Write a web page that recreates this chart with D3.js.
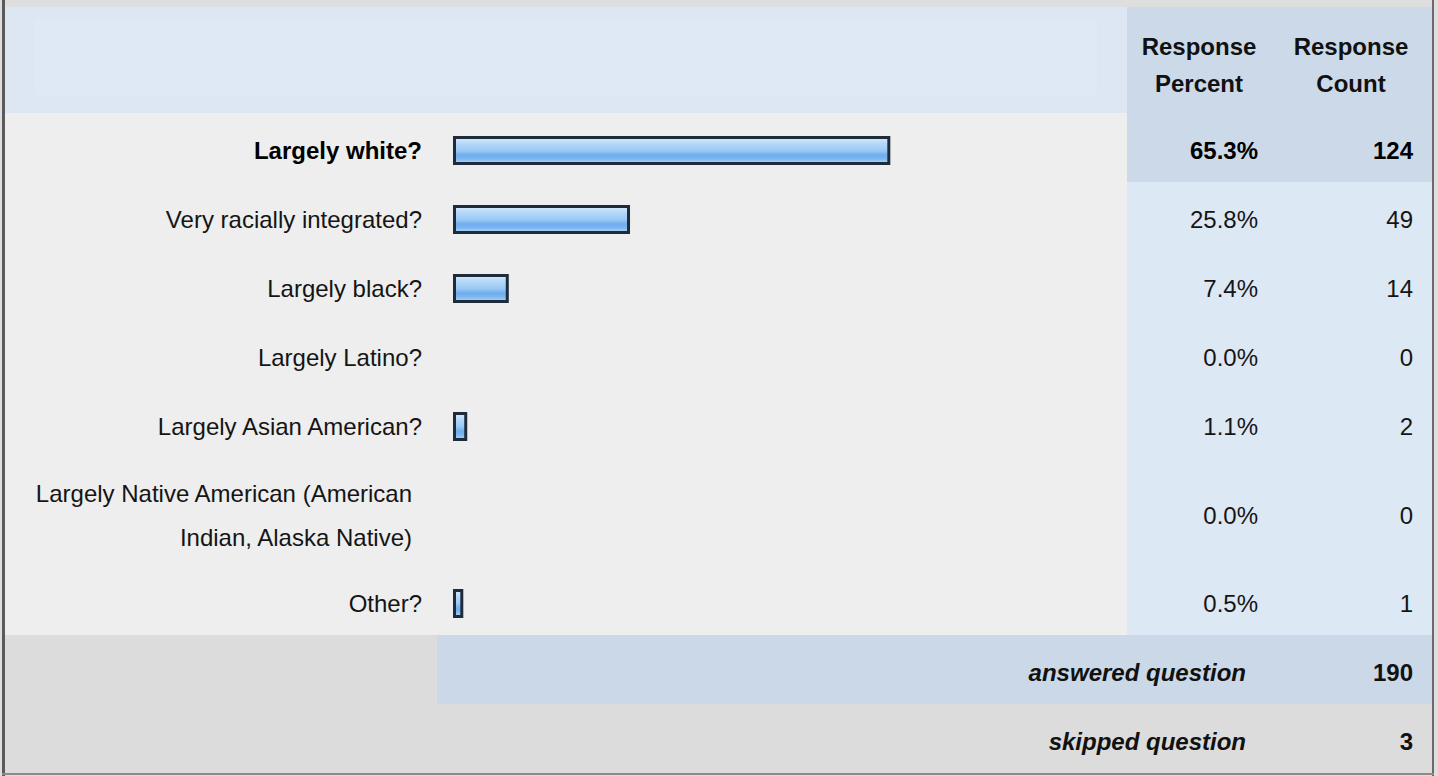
<!DOCTYPE html>
<html>
<head>
<meta charset="utf-8">
<script src="https://cdn.jsdelivr.net/npm/d3@7"></script>
<style>
  html, body { margin: 0; padding: 0; background: #ffffff; }
  svg { display: block; }
  text { font-family: "Liberation Sans", Arial, Helvetica, sans-serif; }
</style>
</head>
<body>
<svg id="chart" width="1438" height="776"></svg>
<script>
// ---- data ----
const categoryLines = [
  ["Largely white?"],
  ["Very racially integrated?"],
  ["Largely black?"],
  ["Largely Latino?"],
  ["Largely Asian American?"],
  ["Largely Native American (American", "Indian, Alaska Native)"],
  ["Other?"]
];
const percents = [65.3, 25.8, 7.4, 0.0, 1.1, 0.0, 0.5];
const counts = [124, 49, 14, 0, 2, 0, 1];
const headerPercent = ["Response", "Percent"];
const headerCount = ["Response", "Count"];
const answeredLabel = "answered question";
const skippedLabel = "skipped question";
const answeredCount = 190;
const skippedCount = 3;
const highlightIndex = 0;

// ---- layout ----
const W = 1438, H = 776;
const boxL = 5, boxR = 1432, boxT = 7, boxB = 773;
const headerH = 106;
const rowH1 = 69, rowH2 = 108, footH = 69;
const dataColX = 1127;
const answeredBlueX = 437;
const labelRight = 422;
const pctRight = 1258;
const cntRight = 1413;
const fs = 24;

const svg = d3.select("#chart");

// gradient for bars
const defs = svg.append("defs");
const grad = defs.append("linearGradient").attr("id", "barGrad")
  .attr("x1", 0).attr("y1", 0).attr("x2", 0).attr("y2", 1);
[["0%", "#d6eafc"], ["25%", "#b3d7f8"], ["50%", "#9bc9f5"], ["68%", "#6fadee"], ["82%", "#7db6ef"], ["100%", "#b4d6f6"]]
  .forEach(([o, c]) => grad.append("stop").attr("offset", o).attr("stop-color", c));

// row geometry
const rows = categoryLines.map((lines, i) => ({
  lines, pct: percents[i], cnt: counts[i], h: lines.length > 1 ? rowH2 : rowH1, i
}));
let yAcc = boxT + headerH;
rows.forEach(r => { r.y0 = yAcc; yAcc += r.h; });
const answeredTop = yAcc;
const skippedTop = answeredTop + footH;

// outer background
svg.append("rect").attr("x", 0).attr("y", 0).attr("width", W).attr("height", H).attr("fill", "#dedede");

// header background
svg.append("rect").attr("x", boxL).attr("y", boxT).attr("width", dataColX - boxL).attr("height", headerH).attr("fill", "#dde7f4");
svg.append("rect").attr("x", boxL + 30).attr("y", boxT + 12).attr("width", dataColX - boxL - 60).attr("height", headerH - 30).attr("fill", "#dfe9f6");

// rows background
svg.selectAll("rect.rowbg").data(rows).join("rect")
  .attr("class", "rowbg")
  .attr("x", boxL).attr("y", d => d.y0).attr("width", dataColX - boxL).attr("height", d => d.h)
  .attr("fill", "#eeeeee");
svg.selectAll("rect.databg").data(rows).join("rect")
  .attr("class", "databg")
  .attr("x", dataColX).attr("y", d => d.y0).attr("width", boxR - dataColX).attr("height", d => d.h)
  .attr("fill", d => d.i === highlightIndex ? "#ccd9e8" : "#dde8f5");
// header data columns
svg.append("rect").attr("x", dataColX).attr("y", boxT).attr("width", boxR - dataColX).attr("height", headerH).attr("fill", "#ccd9e8");

// footer rows
svg.append("rect").attr("x", boxL).attr("y", answeredTop).attr("width", boxR - boxL).attr("height", footH).attr("fill", "#dcdcdc");
svg.append("rect").attr("x", answeredBlueX).attr("y", answeredTop).attr("width", boxR - answeredBlueX).attr("height", footH).attr("fill", "#cad8e7");
svg.append("rect").attr("x", boxL).attr("y", skippedTop).attr("width", boxR - boxL).attr("height", boxB - skippedTop).attr("fill", "#dcdcdc");

// borders
svg.append("rect").attr("x", 2).attr("y", 0).attr("width", 3).attr("height", H).attr("fill", "#5a5a5a");
svg.append("rect").attr("x", boxR).attr("y", 0).attr("width", 2).attr("height", H).attr("fill", "#6a6a6a");
svg.append("rect").attr("x", 2).attr("y", boxB).attr("width", boxR).attr("height", 2).attr("fill", "#8a8a8a");

// header text
function headerText(lines, cx) {
  svg.append("text").attr("text-anchor", "middle").attr("font-weight", "bold").attr("font-size", fs).attr("fill", "#111")
    .selectAll("tspan").data(lines).join("tspan")
    .attr("x", cx).attr("y", (d, i) => 55 + i * 37).text(d => d);
}
headerText(headerPercent, 1199);
headerText(headerCount, 1351);

// bars
const barX0 = 453;
const x = d3.scaleLinear().domain([0, 100]).range([0, 659]);
const barPad = 7, barH = 29, sw = 3;
const barRows = rows.filter(r => r.pct > 0);
svg.selectAll("rect.bar").data(barRows).join("rect")
  .attr("class", "bar")
  .attr("x", barX0 + sw / 2)
  .attr("y", d => d.y0 + d.h / 2 + 3 - barH / 2 + sw / 2)
  .attr("width", d => x(d.pct) + barPad - sw)
  .attr("height", barH - sw)
  .attr("fill", "url(#barGrad)")
  .attr("stroke", "#1e2b3b")
  .attr("stroke-width", sw);

// labels
rows.forEach(r => {
  const bold = r.i === highlightIndex;
  const n = r.lines.length;
  const baseMid = r.y0 + r.h / 2 + 11.5;
  const lh = 44;
  const t = svg.append("text").attr("text-anchor", "end").attr("font-size", fs)
    .attr("font-weight", bold ? "bold" : "normal").attr("fill", bold ? "#000" : "#151515");
  r.lines.forEach((ln, k) => {
    t.append("tspan").attr("x", labelRight - (n > 1 ? 10 : 0))
      .attr("y", baseMid + (k - (n - 1) / 2) * lh).text(ln);
  });
  svg.append("text").attr("text-anchor", "end").attr("font-size", fs)
    .attr("font-weight", bold ? "bold" : "normal").attr("fill", bold ? "#000" : "#151515")
    .attr("x", pctRight).attr("y", baseMid).text(d3.format(".1f")(r.pct) + "%");
  svg.append("text").attr("text-anchor", "end").attr("font-size", fs)
    .attr("font-weight", bold ? "bold" : "normal").attr("fill", bold ? "#000" : "#151515")
    .attr("x", cntRight).attr("y", baseMid).text(r.cnt);
});

// footer text
[[answeredLabel, answeredCount, answeredTop], [skippedLabel, skippedCount, skippedTop]].forEach(([lab, c, t0]) => {
  const b = t0 + footH / 2 + 11.5;
  svg.append("text").attr("text-anchor", "end").attr("font-size", fs).attr("font-weight", "bold")
    .attr("font-style", "italic").attr("fill", "#111").attr("x", 1246).attr("y", b).text(lab);
  svg.append("text").attr("text-anchor", "end").attr("font-size", fs).attr("font-weight", "bold")
    .attr("fill", "#111").attr("x", cntRight).attr("y", b).text(c);
});
</script>
</body>
</html>
